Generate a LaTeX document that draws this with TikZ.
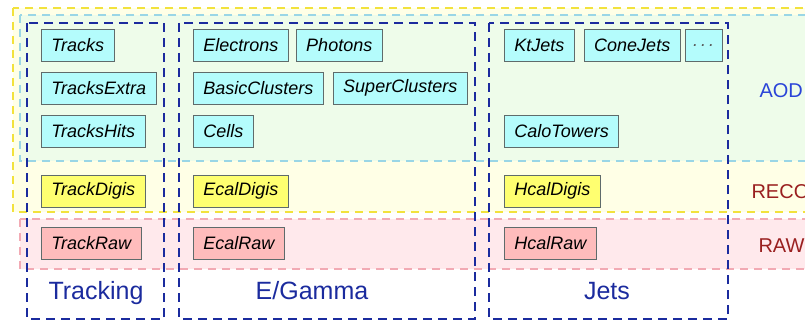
\documentclass[tikz,border=0pt]{standalone}
\usepackage{fontspec}
\setmainfont{Liberation Sans}
\usepackage{xcolor}
\usetikzlibrary{positioning}
\definecolor{recofill}{HTML}{FFFFE6}
\definecolor{recoline}{HTML}{F2E23C}
\definecolor{aodfill}{HTML}{EEFCEA}
\definecolor{aodline}{HTML}{9AD6E6}
\definecolor{rawfill}{HTML}{FFE9EC}
\definecolor{rawline}{HTML}{F2AAB4}
\definecolor{colblue}{HTML}{1B2B9E}
\definecolor{aodbox}{HTML}{B4FCFC}
\definecolor{recobox}{HTML}{FFFF70}
\definecolor{rawbox}{HTML}{FFBCBC}
\definecolor{boxline}{HTML}{5F6B6B}
\definecolor{aodtext}{HTML}{2A44D8}
\definecolor{recotext}{HTML}{9A2020}

\begin{document}
\begin{tikzpicture}[x=1pt,y=-1pt,node distance=7pt]
\tikzstyle{layer}=[line width=1.5pt,dash pattern=on 8pt off 6pt]
\tikzstyle{column}=[draw=colblue,line width=2.5pt,dash pattern=on 9pt off 6pt]
\tikzstyle{obj}=[rectangle,draw=boxline,line width=0.8pt,minimum height=32pt,inner xsep=10pt,anchor=west,font=\itshape\fontsize{18}{21}\selectfont]
\tikzstyle{aod}=[obj,fill=aodbox]
\tikzstyle{reco}=[obj,fill=recobox]
\tikzstyle{raw}=[obj,fill=rawbox]
\tikzstyle{collabel}=[anchor=base,text=colblue,font=\fontsize{25}{28}\selectfont]
\tikzstyle{laylabel}=[anchor=base west,font=\fontsize{20}{24}\selectfont]
\useasboundingbox (0,0) rectangle (805,321);
\clip (0,0) rectangle (805,321);
% data tiers
\draw[layer,draw=recoline,fill=recofill] (13,8) rectangle (820,212);
\draw[layer,draw=aodline,fill=aodfill] (20,15) rectangle (820,161);
\draw[layer,draw=rawline,fill=rawfill] (20,219) rectangle (820,269);
% subsystems
\draw[column] (27,23) rectangle (164,319);
\draw[column] (179,23) rectangle (475,319);
\draw[column] (489,23) rectangle (728,319);
% tracking
\node[aod] (tr) at (41,45.5) {Tracks};
\node[aod] (trx) at (41,88) {TracksExtra};
\node[aod] (trh) at (41,131) {TracksHits};
\node[reco] (trd) at (41,191) {TrackDigis};
\node[raw] (trr) at (41,243) {TrackRaw};
% e/gamma
\node[aod] (el) at (193,45.5) {Electrons};
\node[aod,right=7pt of el] (ph) {Photons};
\node[aod] (bc) at (193,88) {BasicClusters};
\node[aod,right=9pt of bc] (sc) {SuperClusters};
\node[aod] (ce) at (193,131) {Cells};
\node[reco] (ed) at (193,191) {EcalDigis};
\node[raw] (er) at (193,243) {EcalRaw};
% jets
\node[aod] (kt) at (504,45.5) {KtJets};
\node[aod,right=9pt of kt] (cj) {ConeJets};
\node[aod,right=4pt of cj,inner xsep=4pt,minimum width=37pt,text=black!65] (dots) {.\,.\,.};
\node[aod] (ct) at (504,131) {CaloTowers};
\node[reco] (hd) at (504,191) {HcalDigis};
\node[raw] (hr) at (504,243) {HcalRaw};
% labels
\node[collabel] (ltr) at (96,299) {Tracking};
\node[collabel] (leg) at (312,299) {E/Gamma};
\node[collabel] (lje) at (607,299) {Jets};
\node[laylabel,text=aodtext] (laod) at (756,97) {AOD};
\node[laylabel,text=recotext] (lreco) at (748,198) {RECO};
\node[laylabel,text=recotext] (lraw) at (755,252) {RAW};
\end{tikzpicture}
\end{document}
